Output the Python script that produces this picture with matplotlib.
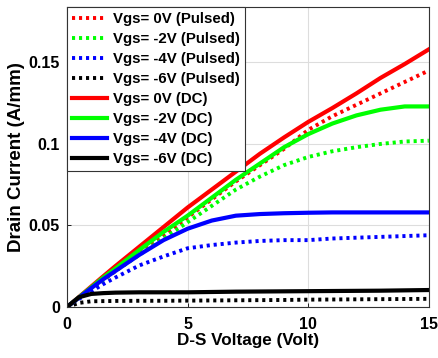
import matplotlib
matplotlib.use('Agg')
import matplotlib.pyplot as plt

plt.rcParams['font.family'] = ['Liberation Sans', 'DejaVu Sans']
plt.rcParams['font.weight'] = 'bold'

# drain voltage (V)
vds = [0, 0.5, 1, 1.5, 2, 3, 4, 5, 6, 7, 8, 9, 10, 11, 12, 13, 14, 15]

# pulsed measurements (A/mm)
id_p_0 = [0, 0.0055, 0.011, 0.0165, 0.022, 0.033, 0.044, 0.055, 0.066, 0.077, 0.087, 0.097, 0.1086, 0.117, 0.124, 0.131, 0.138, 0.145]
id_p_2 = [0, 0.0055, 0.011, 0.0165, 0.022, 0.032, 0.042, 0.052, 0.062, 0.072, 0.080, 0.087, 0.092, 0.0955, 0.098, 0.100, 0.1015, 0.102]
id_p_4 = [0, 0.005, 0.0095, 0.014, 0.018, 0.0255, 0.031, 0.036, 0.038, 0.0395, 0.0405, 0.041, 0.041, 0.042, 0.0425, 0.043, 0.0435, 0.044]
id_p_6 = [0, 0.0025, 0.0035, 0.0036, 0.0037, 0.0038, 0.0038, 0.0039, 0.004, 0.0041, 0.0042, 0.0043, 0.0045, 0.0046, 0.0047, 0.0048, 0.0049, 0.005]

# DC measurements (A/mm)
id_dc_0 = [0, 0.0062, 0.0125, 0.0188, 0.025, 0.037, 0.049, 0.061, 0.072, 0.083, 0.094, 0.104, 0.1135, 0.122, 0.131, 0.1405, 0.149, 0.158]
id_dc_2 = [0, 0.006, 0.012, 0.018, 0.0235, 0.035, 0.046, 0.056, 0.067, 0.078, 0.088, 0.098, 0.106, 0.1125, 0.1175, 0.121, 0.123, 0.123]
id_dc_4 = [0, 0.0058, 0.0115, 0.017, 0.022, 0.032, 0.041, 0.048, 0.053, 0.056, 0.057, 0.0575, 0.0578, 0.058, 0.058, 0.058, 0.058, 0.058]
id_dc_6 = [0, 0.006, 0.008, 0.0085, 0.0088, 0.009, 0.009, 0.009, 0.0092, 0.0094, 0.0095, 0.0096, 0.0097, 0.0098, 0.0099, 0.010, 0.0102, 0.0104]

pulsed = [id_p_0, id_p_2, id_p_4, id_p_6]
dc = [id_dc_0, id_dc_2, id_dc_4, id_dc_6]
vgs_labels = ['Vgs= 0V', 'Vgs= -2V', 'Vgs= -4V', 'Vgs= -6V']
colors = ['#ff0000', '#00ff00', '#0000ff', '#000000']

fig = plt.figure(figsize=(4.38, 3.58), dpi=100)
ax = fig.add_axes([0.153, 0.1425, 0.826, 0.838])

for y, lab, c in zip(pulsed, vgs_labels, colors):
    ax.plot(vds, y, color=c, lw=2.8, linestyle=(0, (0.8, 1.0)), label=lab + ' (Pulsed)')
for y, lab, c in zip(dc, vgs_labels, colors):
    ax.plot(vds, y, color=c, lw=3.0, label=lab + ' (DC)')

ax.set_xlim(0, 15)
ax.set_ylim(0, 0.184)
ax.set_xticks([0, 5, 10, 15])
ax.set_yticks([0, 0.05, 0.1, 0.15])
ax.set_yticklabels(['0', '0.05', '0.1', '0.15'])
ax.tick_params(labelsize=11.5, direction='in', length=3, width=0.6)
ax.tick_params(axis='x', pad=7)
ax.tick_params(axis='y', pad=5)
ax.grid(True, color='#dddddd', lw=0.8)
for s in ax.spines.values():
    s.set_linewidth(0.8)
    s.set_color('#333333')

ax.set_xlabel('D-S Voltage (Volt)', fontsize=12.3, fontweight='bold', labelpad=1)
ax.set_ylabel('Drain Current (A/mm)', fontsize=13.5, fontweight='bold', labelpad=3)

leg = ax.legend(loc='upper left', handlelength=2.3, handletextpad=0.4,
                labelspacing=0.4, borderpad=0.35, borderaxespad=0.0, fancybox=False,
                framealpha=1.0, prop={'weight': 'bold', 'size': 10.8})
leg.get_frame().set_edgecolor('#333333')
leg.get_frame().set_linewidth(0.8)

fig.savefig('out.png', dpi=100)
